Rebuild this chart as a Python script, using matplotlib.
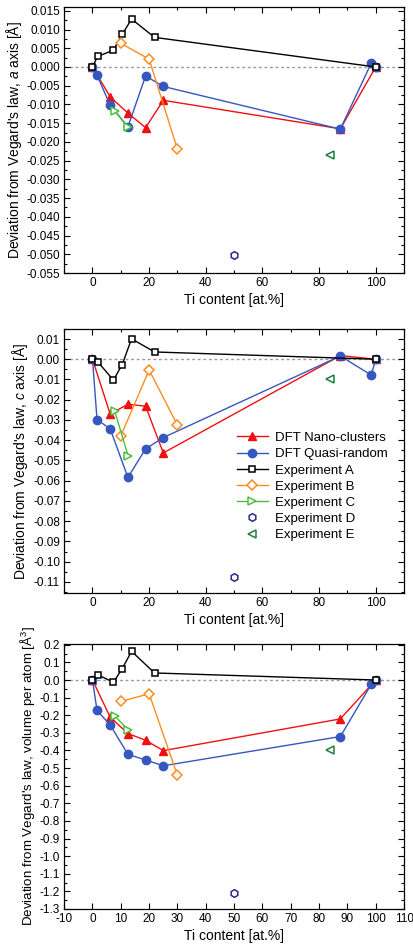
import numpy as np
import matplotlib
matplotlib.use("Agg")
import matplotlib.pyplot as plt
from matplotlib.ticker import MultipleLocator, FormatStrFormatter

plt.rcParams['font.family'] = ['Liberation Sans', 'DejaVu Sans']
plt.rcParams['mathtext.fontset'] = 'custom'
plt.rcParams['mathtext.it'] = 'Liberation Sans:italic'
plt.rcParams['mathtext.rm'] = 'Liberation Sans'

# Ti content (at.%) for each series
x_nano = [0, 6.25, 12.5, 18.75, 25, 87.5, 100]
x_qr = [0, 1.6, 6.25, 12.5, 18.75, 25, 87.5, 98.4, 100]
x_expA = [0, 1.8, 7.4, 10.5, 13.8, 21.9, 100]
x_expB = [10, 20, 30]
x_expC = [7.8, 12.6]
x_expD = [50]
x_expE = [84]

# a axis deviation [A]
a_nano = [0, -0.0080, -0.0123, -0.0162, -0.0089, -0.0165, 0]
a_qr = [0, -0.0022, -0.0102, -0.0160, -0.0024, -0.0052, -0.0166, 0.0010, 0]
a_expA = [0, 0.0028, 0.0045, 0.0087, 0.0128, 0.0079, 0]
a_expB = [0.0063, 0.0021, -0.0220]
a_expC = [-0.0117, -0.0161]
a_expD = [-0.0503]
a_expE = [-0.0235]

# c axis deviation [A]
c_nano = [0, -0.0271, -0.0222, -0.0232, -0.0463, 0.0018, 0]
c_qr = [0, -0.0298, -0.0344, -0.0584, -0.0443, -0.0387, 0.0016, -0.0078, 0]
c_expA = [0, -0.0012, -0.0103, -0.0026, 0.0101, 0.0036, 0]
c_expB = [-0.0379, -0.0053, -0.0326]
c_expC = [-0.0255, -0.0478]
c_expD = [-0.1074]
c_expE = [-0.0098]

# volume per atom deviation [A^3]
v_nano = [0, -0.211, -0.304, -0.342, -0.401, -0.221, 0]
v_qr = [0, -0.173, -0.255, -0.422, -0.454, -0.487, -0.321, -0.025, 0]
v_expA = [0, 0.030, -0.013, 0.065, 0.163, 0.040, 0]
v_expB = [-0.122, -0.078, -0.542]
v_expC = [-0.203, -0.283]
v_expD = [-1.211]
v_expE = [-0.395]

labels = ['DFT Nano-clusters', 'DFT Quasi-random', 'Experiment A',
          'Experiment B', 'Experiment C', 'Experiment D', 'Experiment E']

red = '#f01010'
blue = '#3656c0'
orange = '#ff8c1e'
green = '#4cc03c'
navy = '#2a2a8c'
dgreen = '#1f8040'

fig = plt.figure(figsize=(4.14, 9.5), dpi=100)
boxes = [[0.155, 0.7126, 0.821, 0.280],
         [0.155, 0.3758, 0.821, 0.278],
         [0.155, 0.0432, 0.821, 0.279]]

datasets = [
    (a_nano, a_qr, a_expA, a_expB, a_expC, a_expD, a_expE),
    (c_nano, c_qr, c_expA, c_expB, c_expC, c_expD, c_expE),
    (v_nano, v_qr, v_expA, v_expB, v_expC, v_expD, v_expE),
]
ylabels = [r"Deviation from Vegard's law, $\it{a}$ axis [Å]",
           r"Deviation from Vegard's law, $\it{c}$ axis [Å]",
           r"Deviation from Vegard's law, volume per atom [Å$^3$]"]
ylims = [(-0.055, 0.016), (-0.1155, 0.015), (-1.3, 0.205)]
ylsize = [10, 10, 9.6]

axes = []
for i, (box, d) in enumerate(zip(boxes, datasets)):
    ax = fig.add_axes(box)
    axes.append(ax)
    nano, qr, ea, eb, ec, ed, ee = d
    ax.axhline(0, color='#999999', ls=(0, (2, 2)), lw=1.0, zorder=0)
    ax.plot(x_nano, nano, '-^', color=red, mfc=red, mec=red, ms=6, lw=1, label=labels[0], zorder=3)
    ax.plot(x_qr, qr, '-o', color=blue, mfc=blue, mec=blue, ms=6, lw=1, label=labels[1], zorder=3)
    ax.plot(x_expA, ea, '-s', color='black', mfc='white', mec='black', ms=5, mew=1.1, lw=1, label=labels[2], zorder=4)
    ax.plot(x_expB, eb, '-D', color=orange, mfc='white', mec=orange, ms=5, mew=1.1, lw=1, label=labels[3], zorder=4)
    ax.plot(x_expC, ec, '->', color=green, mfc='white', mec=green, ms=6, mew=1.1, lw=1, label=labels[4], zorder=4)
    ax.plot(x_expD, ed, 'h', ls='none', mfc='white', mec=navy, ms=5.5, mew=1.1, label=labels[5], zorder=4)
    ax.plot(x_expE, ee, '<', ls='none', mfc='white', mec=dgreen, ms=5.5, mew=1.1, label=labels[6], zorder=4)

    ax.set_xlim(-10, 110)
    ax.set_ylim(*ylims[i])
    ax.set_xlabel('Ti content [at.%]', fontsize=10, labelpad=3)
    ax.set_ylabel(ylabels[i], fontsize=ylsize[i], labelpad=2)
    ax.tick_params(which='both', direction='in', top=True, right=True, labelsize=8.5, pad=3)
    ax.tick_params(which='major', length=4, width=0.8)
    ax.tick_params(which='minor', length=2.5, width=0.8)
    for s in ax.spines.values():
        s.set_linewidth(0.9)

axes[0].xaxis.set_major_locator(MultipleLocator(20))
axes[0].xaxis.set_minor_locator(MultipleLocator(10))
axes[0].yaxis.set_major_locator(MultipleLocator(0.005))
axes[0].yaxis.set_minor_locator(MultipleLocator(0.0025))
axes[0].yaxis.set_major_formatter(FormatStrFormatter('%.3f'))

axes[1].xaxis.set_major_locator(MultipleLocator(20))
axes[1].xaxis.set_minor_locator(MultipleLocator(10))
axes[1].yaxis.set_major_locator(MultipleLocator(0.01))
axes[1].yaxis.set_minor_locator(MultipleLocator(0.005))
axes[1].yaxis.set_major_formatter(FormatStrFormatter('%.2f'))

axes[2].xaxis.set_major_locator(MultipleLocator(10))
axes[2].yaxis.set_major_locator(MultipleLocator(0.1))
axes[2].yaxis.set_minor_locator(MultipleLocator(0.05))
axes[2].yaxis.set_major_formatter(FormatStrFormatter('%.1f'))

for ax in axes:
    ax.xaxis.set_major_formatter(FormatStrFormatter('%d'))

axes[1].legend(loc='upper left', bbox_to_anchor=(0.48, 0.645), frameon=False,
               fontsize=9.5, handlelength=2.4, handletextpad=0.5, labelspacing=0.3,
               borderpad=0.2)

fig.savefig('out.png', dpi=100)
